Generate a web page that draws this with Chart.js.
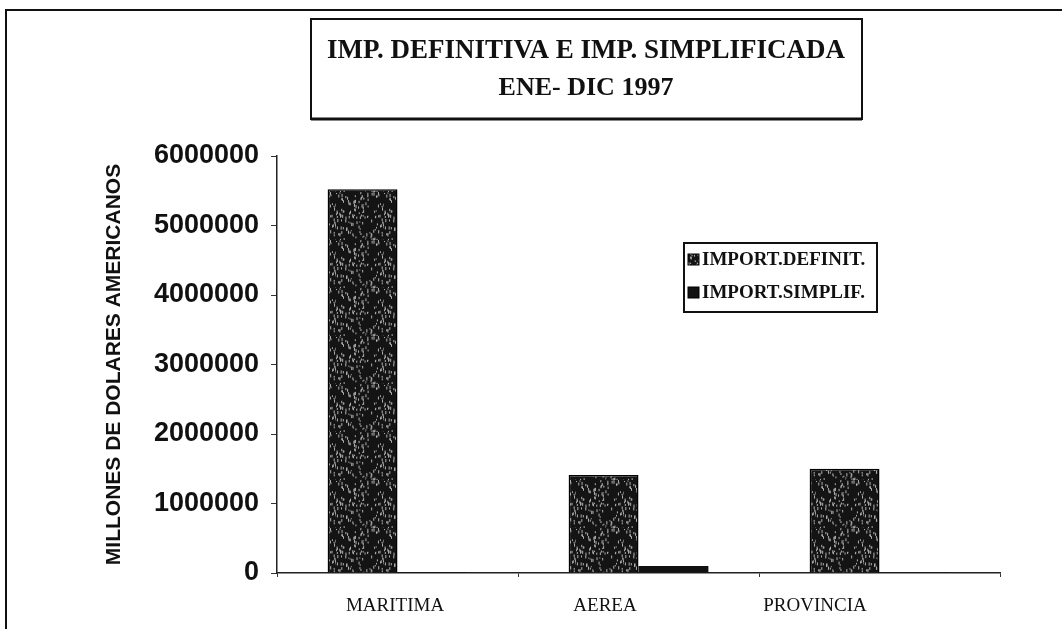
<!DOCTYPE html>
<html>
<head>
<meta charset="utf-8">
<script src="https://cdn.jsdelivr.net/npm/chart.js@4/dist/chart.umd.min.js"></script>
<style>
  html, body { margin: 0; padding: 0; background: #fff; }
  #wrap { width: 1062px; height: 629px; position: relative; }
</style>
</head>
<body>
<div id="wrap"><canvas id="c" width="1062" height="629"></canvas></div>
<script>
const categories = ['MARITIMA', 'AEREA', 'PROVINCIA'];
const seriesNames = ['IMPORT.DEFINIT.', 'IMPORT.SIMPLIF.'];
const definitValues = [5520000, 1410000, 1500000];
const simplifValues = [15000, 100000, 12000];
const yTicks = [0, 1000000, 2000000, 3000000, 4000000, 5000000, 6000000];
const titleLines = ['IMP. DEFINITIVA E IMP. SIMPLIFICADA', 'ENE- DIC 1997'];
const yTitle = 'MILLONES DE DOLARES AMERICANOS';

// speckled texture like the photocopied fill (fixed seed, only a fill style)
function makeSpeckle() {
    const c = document.createElement('canvas');
    c.width = 48; c.height = 48;
    const g = c.getContext('2d');
    g.fillStyle = '#141414';
    g.fillRect(0, 0, 48, 48);
    let s = 11;
    const rnd = () => { s = (s * 16807) % 2147483647; return s / 2147483647; };
    g.fillStyle = '#b0b0b0';
    for (let i = 0; i < 150; i++) {
        const x = rnd() * 48, y = rnd() * 48;
        g.fillRect(x, y, 1, 1 + rnd() * 2.5);
    }
    return g.createPattern(c, 'repeat');
}

const decor = {
    id: 'decor',
    afterDraw(chart) {
        const ctx = chart.ctx;
        ctx.save();
        ctx.strokeStyle = '#111';
        // outer frame (top and left edges of the scanned page)
        ctx.lineWidth = 2;
        ctx.beginPath();
        ctx.moveTo(6, 629); ctx.lineTo(6, 10); ctx.lineTo(1062, 10);
        ctx.stroke();
        // title box
        ctx.lineWidth = 2;
        ctx.strokeRect(311, 19, 551, 100);
        ctx.lineWidth = 3;
        ctx.beginPath(); ctx.moveTo(311, 119); ctx.lineTo(862, 119); ctx.stroke();
        ctx.fillStyle = '#111';
        ctx.textAlign = 'center';
        ctx.textBaseline = 'middle';
        ctx.font = 'bold 27px "Liberation Serif", serif';
        ctx.fillText(titleLines[0], 586, 51);
        ctx.font = 'bold 26px "Liberation Serif", serif';
        ctx.fillText(titleLines[1], 586, 88);
        // legend box
        ctx.lineWidth = 2;
        ctx.strokeRect(684, 243, 193, 69);
        ctx.textAlign = 'left';
        ctx.font = 'bold 19px "Liberation Serif", serif';
        const ys = [259, 292];
        chart.data.datasets.forEach((ds, i) => {
            ctx.fillStyle = ds.backgroundColor;
            ctx.fillRect(688, ys[i] - 5, 11, 11);
            ctx.strokeStyle = '#000';
            ctx.lineWidth = 1;
            ctx.strokeRect(688, ys[i] - 5, 11, 11);
            ctx.fillStyle = '#111';
            ctx.fillText(ds.label, 702, ys[i] + 1);
        });
        ctx.restore();
    }
};

const speckle = makeSpeckle();

new Chart(document.getElementById('c'), {
    type: 'bar',
    data: {
        labels: categories,
        datasets: [
            { label: seriesNames[0], data: definitValues, backgroundColor: speckle, borderColor: '#000', borderWidth: 1.5 },
            { label: seriesNames[1], data: simplifValues, backgroundColor: '#111', borderColor: '#000', borderWidth: 0 }
        ]
    },
    options: {
        responsive: false,
        animation: false,
        layout: { padding: { top: 156, right: 62, left: 0, bottom: 0 } },
        plugins: { legend: { display: false }, title: { display: false }, tooltip: { enabled: false } },
        datasets: { bar: { categoryPercentage: 0.58, barPercentage: 1 } },
        scales: {
            x: {
                afterFit: s => { s.height = 4; },
                grid: { offset: true, drawOnChartArea: false, drawTicks: true, tickLength: 4, color: '#333' },
                border: { display: true, color: '#222', width: 1.5 },
                ticks: { display: false }
            },
            // the category names in the scan sit closer together than the bar groups
            xNames: {
                type: 'linear', position: 'bottom',
                offset: false, bounds: 'data', beginAtZero: false,
                min: -0.562, max: 2.881,
                afterFit: s => { s.height = 52; },
                afterBuildTicks: s => { s.ticks = categories.map((c, i) => ({ value: i })); },
                grid: { display: false, offset: false },
                border: { display: false },
                ticks: {
                    color: '#111', padding: 10,
                    callback: v => categories[v],
                    font: { family: '"Liberation Serif", serif', size: 19 }
                }
            },
            y: {
                min: 0, max: 6000000,
                afterFit: s => { s.width = 277; },
                afterBuildTicks: s => { s.ticks = yTicks.map(v => ({ value: v })); },
                grid: { drawOnChartArea: false, drawTicks: true, tickLength: 6, color: '#333' },
                border: { display: true, color: '#222', width: 1.5 },
                ticks: {
                    color: '#111', padding: 12,
                    callback: v => String(v),
                    font: { family: '"Liberation Sans", Arial, sans-serif', size: 27, weight: 'bold' }
                },
                title: {
                    display: true, text: yTitle, color: '#111',
                    padding: { top: 102, bottom: 0 },
                    font: { family: '"Liberation Sans Narrow", "Liberation Sans", sans-serif', size: 21, weight: 'bold' }
                }
            }
        }
    },
    plugins: [decor]
});
</script>
</body>
</html>
